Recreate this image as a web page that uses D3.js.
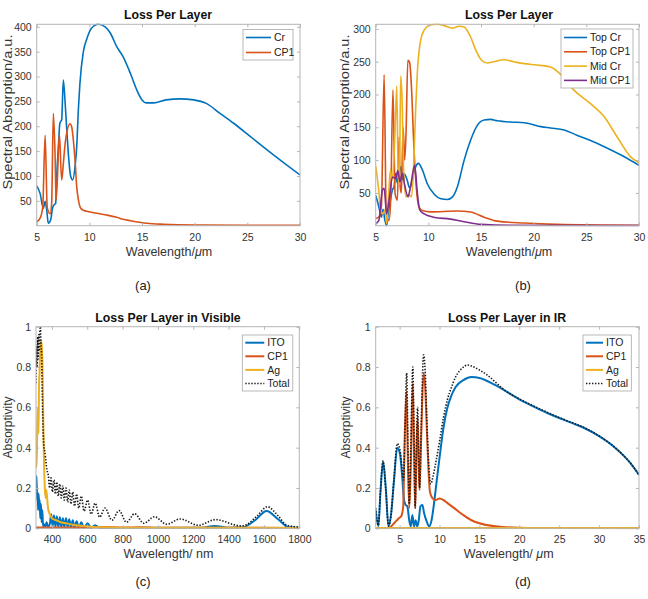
<!DOCTYPE html>
<html>
<head>
<meta charset="utf-8">
<script src="https://cdn.jsdelivr.net/npm/d3@7"></script>
<style>
  body { margin: 0; background: #fff; }
  svg { display: block; }
  text { font-family: "Liberation Sans", Arial, sans-serif; }
</style>
</head>
<body>
<svg id="chart" width="648" height="599"></svg>
<script>
// --- (a) Loss Per Layer, wavelength in um ---
const crA = [[5,80],[5.32,65],[5.63,35],[5.8,49],[5.95,32],[6.1,5],[6.33,12],[6.5,35],[6.65,42],[6.8,45],[6.9,100],[7.06,159],[7.2,206],[7.37,213],[7.53,293],[7.7,247],[7.85,194],[8.0,146],[8.23,99],[8.42,92],[8.64,119],[8.8,159],[8.96,235],[9.1,285],[9.43,350],[9.75,375],[10.2,397],[10.85,405],[11.5,400],[12,387],[12.6,360],[13.2,340],[13.9,306],[14.5,273],[15,253],[15.4,247],[16.1,247],[17.3,253],[18.6,255],[19.9,253],[21.1,246],[22.4,226],[23.7,206],[25.3,179],[26.9,152],[28.5,126],[30,102]];
const cp1A = [[5,8],[5.3,14],[5.57,37],[5.8,182],[6.0,37],[6.27,24],[6.42,44],[6.58,226],[6.74,145],[6.84,52],[6.96,92],[7.15,185],[7.37,92],[7.53,125],[7.7,165],[7.9,192],[8.16,205],[8.32,199],[8.48,172],[8.64,132],[8.8,78],[8.96,52],[9.18,35],[9.43,31],[10,28],[10.7,25],[11.5,22],[12.6,17],[13.2,13],[13.9,10],[15,6],[16,4],[17,3],[20,1.5],[25,1],[30,1]];

// --- (b) Loss Per Layer, top and middle layers ---
const topCrB = [[5,46],[5.3,29],[5.54,13],[5.7,25],[5.85,10],[6.04,0],[6.2,20],[6.4,39],[6.6,55],[6.74,59],[6.9,80],[7.05,65],[7.2,74],[7.4,90],[7.55,70],[7.7,79],[8.0,69],[8.2,58],[8.4,64],[8.6,80],[8.8,90],[9.05,95],[9.43,85],[9.9,64],[10.5,49],[11.2,41],[11.8,40],[12.3,44],[12.75,59],[13.4,100],[14,130],[14.65,153],[15.3,161],[15.9,162],[16.55,160],[17.8,158],[19.1,157],[19.7,155],[20.7,151],[21.6,149],[22.9,146],[24.1,138],[25.4,130],[27,118],[28.6,105],[30,92]];
const topCp1B = [[5,11],[5.3,13],[5.54,29],[5.8,230],[6.0,18],[6.27,8],[6.42,39],[6.64,207],[6.84,49],[7.06,39],[7.22,135],[7.32,60],[7.44,50],[7.6,150],[7.75,100],[7.88,140],[8.05,252],[8.22,249],[8.4,210],[8.6,130],[8.85,59],[9.1,29],[9.43,23],[10.2,21],[12.75,22.5],[14,21],[15.3,13],[16.55,7],[19.1,4],[22.2,2],[30,0.6]];
const midCrB = [[5,91],[5.25,60],[5.47,24],[5.7,18],[5.9,25],[6.04,3],[6.2,40],[6.4,85],[6.55,70],[6.7,92],[6.85,150],[7.0,213],[7.12,90],[7.25,62],[7.37,228],[7.5,195],[7.65,85],[7.88,44],[8.1,48],[8.4,44],[8.6,90],[8.8,180],[8.96,235],[9.27,283],[9.6,298],[10.2,306],[10.85,307],[11.5,305],[12.3,301],[12.9,304],[13.4,303],[14,288],[14.5,268],[15,253],[15.6,248],[16.2,250],[17.2,253],[18.1,250],[19.1,247],[20.3,245],[21.6,242],[22.6,230],[23.8,207],[25.4,186],[26.7,166],[27.9,136],[29.2,105],[30,96]];
const midCp1B = [[5,3],[5.3,8],[5.63,54],[5.8,57],[6.04,18],[6.27,39],[6.6,74],[6.9,72],[7.1,84],[7.3,67],[7.53,80],[7.75,62],[8.07,44],[8.3,59],[8.6,87],[8.7,92],[8.96,49],[9.18,24],[9.6,18],[10.5,13],[12.1,10],[13.4,6],[15,2],[17.8,0.6],[30,0.3]];

// --- (c) Loss Per Layer in Visible, wavelength in nm ---
const itoC = [[310,0.21],[313,0.26],[316,0.14],[319,0.18],[322,0.09],[325,0.17],[328,0.1],[331,0.14],[334,0.05],[338,0.12],[342,0.03],[346,0.09],[350,0.01],[355,0.02],[362,0.005],[370,0.03],[378,0.008],[388,0.02],[396,0.07],[404,0.01],[412,0.065],[420,0.008],[428,0.06],[436,0.007],[445,0.055],[453,0.006],[462,0.05],[470,0.005],[480,0.05],[489,0.005],[498,0.045],[508,0.004],[518,0.04],[528,0.003],[540,0.035],[552,0.003],[566,0.03],[582,0.003],[602,0.025],[622,0.002],[645,0.015],[670,0.002],[750,0.002],[1250,0.003],[1320,0.012],[1400,0.003],[1480,0.005],[1550,0.04],[1615,0.086],[1680,0.045],[1740,0.005],[1800,0.002]];
const cp1C = [[310,0.004],[600,0.004],[700,0.006],[800,0.004],[900,0.005],[1000,0.003],[1800,0.002]];
const agC = [[310,0.3],[314,0.34],[318,0.54],[321,0.6],[324,0.47],[327,0.7],[330,0.77],[333,0.86],[336,0.89],[340,0.93],[344,0.88],[347,0.8],[350,0.6],[353,0.45],[356,0.3],[360,0.2],[364,0.15],[368,0.19],[372,0.16],[378,0.1],[388,0.07],[400,0.05],[425,0.04],[450,0.03],[481,0.025],[520,0.018],[575,0.012],[620,0.008],[670,0.005],[800,0.003],[1800,0.002]];
const totalC = [[310,0.72],[313,0.9],[316,0.8],[319,0.95],[322,0.84],[325,0.96],[328,0.88],[332,0.98],[335,1.0],[338,0.92],[342,0.85],[346,0.65],[350,0.5],[355,0.4],[360,0.38],[366,0.33],[372,0.29],[380,0.26],[387,0.2],[395,0.25],[403,0.18],[412,0.24],[420,0.17],[428,0.23],[436,0.16],[445,0.22],[453,0.15],[462,0.21],[470,0.14],[480,0.2],[489,0.13],[498,0.19],[508,0.12],[518,0.18],[528,0.11],[540,0.17],[552,0.1],[566,0.16],[582,0.085],[602,0.14],[622,0.07],[645,0.125],[670,0.055],[700,0.1],[740,0.04],[780,0.088],[822,0.03],[868,0.072],[920,0.025],[980,0.057],[1050,0.02],[1125,0.046],[1230,0.015],[1325,0.043],[1470,0.012],[1500,0.018],[1560,0.06],[1620,0.107],[1680,0.062],[1730,0.015],[1800,0.006]];

// --- (d) Loss Per Layer in IR, wavelength in um ---
const itoD = [[2,0.09],[2.33,0.01],[2.6,0.18],[2.92,0.33],[3.26,0.2],[3.6,0.01],[3.9,0.06],[4.3,0.24],[4.7,0.4],[5.04,0.37],[5.35,0.24],[5.55,0.14],[5.76,0.116],[5.97,0.108],[6.2,0.04],[6.4,0.01],[6.6,0.066],[6.8,0.01],[7.0,0.04],[7.2,0.01],[7.4,0.04],[7.6,0.108],[7.85,0.116],[8.07,0.075],[8.4,0.033],[8.7,0.01],[9.0,0.04],[9.3,0.12],[9.6,0.22],[10,0.35],[10.5,0.5],[11,0.6],[11.5,0.66],[12,0.7],[13,0.735],[14,0.75],[15,0.746],[17,0.71],[20,0.64],[22,0.6],[23.5,0.572],[25,0.547],[26.5,0.524],[28,0.5],[30,0.457],[32,0.4],[34,0.32],[35,0.265]];
const cp1D = [[2,0],[3.5,0],[3.7,0.002],[4.3,0.025],[4.9,0.05],[5.2,0.06],[5.45,0.11],[5.6,0.39],[5.85,0.68],[6.0,0.4],[6.2,0.1],[6.4,0.3],[6.65,0.72],[6.8,0.4],[6.95,0.1],[7.1,0.35],[7.25,0.55],[7.4,0.3],[7.5,0.19],[7.7,0.45],[8.0,0.77],[8.2,0.7],[8.4,0.5],[8.6,0.3],[8.8,0.18],[9.1,0.15],[9.5,0.14],[10,0.148],[10.5,0.14],[11,0.125],[12,0.095],[13,0.065],[14,0.04],[15,0.025],[17,0.01],[20,0.003],[25,0.001],[35,0]];
const agD = [[2,0.002],[35,0.002]];
const totalD = [[2,0.1],[2.33,0.015],[2.6,0.19],[2.92,0.335],[3.26,0.2],[3.6,0.012],[3.9,0.06],[4.3,0.25],[4.7,0.42],[5.04,0.39],[5.3,0.3],[5.5,0.24],[5.65,0.45],[5.88,0.77],[6.05,0.4],[6.2,0.12],[6.4,0.4],[6.65,0.8],[6.8,0.45],[6.95,0.1],[7.1,0.4],[7.25,0.6],[7.4,0.35],[7.5,0.2],[7.7,0.5],[8.0,0.86],[8.2,0.78],[8.4,0.55],[8.6,0.35],[8.9,0.22],[9.2,0.26],[9.5,0.32],[10,0.43],[10.5,0.55],[11,0.64],[11.5,0.7],[12,0.75],[12.5,0.78],[13,0.8],[13.5,0.81],[14,0.805],[15,0.785],[16,0.76],[17,0.725],[18,0.69],[20,0.642],[22,0.603],[23.5,0.575],[25,0.549],[26.5,0.526],[28,0.502],[30,0.458],[32,0.4],[34,0.32],[35,0.265]];

// tick values
const umTicks = [5, 10, 15, 20, 25, 30];
const irTicks = [5, 10, 15, 20, 25, 30, 35];
const nmTicks = [400, 600, 800, 1000, 1200, 1400, 1600, 1800];
const ticksA = [50, 100, 150, 200, 250, 300, 350, 400];
const ticksB = [50, 100, 150, 200, 250, 300];
const absTicks = [0, 0.2, 0.4, 0.6, 0.8, 1];

// matlab default colours
const BLUE = "#0072BD", ORANGE = "#D95319", YELLOW = "#EDB120", PURPLE = "#7E2F8E";

const svg = d3.select("#chart");

function drawPanel(p) {
  const b = p.box;
  const x = d3.scaleLinear().domain(p.xDomain).range([b.left, b.right]);
  const y = d3.scaleLinear().domain(p.yDomain).range([b.bottom, b.top]);
  const g = svg.append("g");

  g.append("clipPath").attr("id", "clip-" + p.id)
    .append("rect")
    .attr("x", b.left).attr("y", b.top - 1)
    .attr("width", b.right - b.left).attr("height", b.bottom - b.top + 2);

  const line = d3.line()
    .x((d) => x(d[0]))
    .y((d) => y(d[1]))
    .curve(d3.curveMonotoneX);

  const plot = g.append("g").attr("clip-path", `url(#clip-${p.id})`);
  p.series.forEach((s) => {
    plot.append("path")
      .datum(s.values)
      .attr("d", line)
      .attr("fill", "none")
      .attr("stroke", s.color)
      .attr("stroke-width", s.width)
      .attr("stroke-dasharray", s.dash || null)
      .attr("stroke-linejoin", "round");
  });

  // axes, ticks inward on all four sides
  const fmt = (d) => String(d);
  const axes = [
    { ax: d3.axisBottom(x).tickValues(p.xTicks).tickFormat(fmt).tickPadding(p.xPad), t: `translate(0,${b.bottom})` },
    { ax: d3.axisTop(x).tickValues(p.xTicks).tickFormat(""), t: `translate(0,${b.top})` },
    { ax: d3.axisLeft(y).tickValues(p.yTicks).tickFormat(fmt).tickPadding(5), t: `translate(${b.left},0)` },
    { ax: d3.axisRight(y).tickValues(p.yTicks).tickFormat(""), t: `translate(${b.right},0)` },
  ];
  axes.forEach((a) => {
    const ag = g.append("g")
      .attr("transform", a.t)
      .call(a.ax.tickSizeInner(-3).tickSizeOuter(0));
    ag.select(".domain").remove();
    ag.selectAll("line").attr("stroke", "#b5b5b5");
    ag.selectAll("text")
      .attr("font-family", '"Liberation Sans", Arial, sans-serif')
      .attr("font-size", "10.5px")
      .attr("fill", "#333");
  });

  g.append("rect")
    .attr("x", b.left).attr("y", b.top)
    .attr("width", b.right - b.left).attr("height", b.bottom - b.top)
    .attr("fill", "none")
    .attr("stroke", "#b5b5b5")
    .attr("stroke-width", 1);

  // title
  g.append("text")
    .attr("x", p.titleX).attr("y", p.titleY)
    .attr("text-anchor", "middle")
    .attr("font-size", "12.3px")
    .attr("font-weight", "bold")
    .attr("fill", "#111")
    .text(p.title);

  // x label
  const xl = g.append("text")
    .attr("x", p.xLabelX).attr("y", p.xLabelY)
    .attr("text-anchor", "middle")
    .attr("font-size", "12.5px")
    .attr("fill", "#333");
  p.xLabel.forEach((part) => {
    xl.append("tspan").attr("font-style", part.italic ? "italic" : null).text(part.t);
  });

  // y label
  const yl = g.append("text")
    .attr("transform", `translate(${p.yLabelX},${p.yLabelY}) rotate(-90)`)
    .attr("text-anchor", "middle")
    .attr("font-size", p.yLabelSize)
    .attr("fill", "#333")
    .text(p.yLabel);
  if (p.yLabelLength) {
    yl.attr("textLength", p.yLabelLength).attr("lengthAdjust", "spacingAndGlyphs");
  }

  // legend
  const L = p.legend;
  g.append("rect")
    .attr("x", L.x).attr("y", L.y)
    .attr("width", L.w).attr("height", L.h)
    .attr("fill", "#fff")
    .attr("stroke", "#a8a8a8")
    .attr("stroke-width", 0.8);
  p.series.forEach((s, i) => {
    const ry = L.firstRow + i * L.step;
    g.append("line")
      .attr("x1", L.x + 3).attr("x2", L.x + 3 + L.lineLen)
      .attr("y1", ry).attr("y2", ry)
      .attr("stroke", s.color)
      .attr("stroke-width", s.width)
      .attr("stroke-dasharray", s.dash || null);
    g.append("text")
      .attr("x", L.x + 6 + L.lineLen).attr("y", ry)
      .attr("dy", "0.35em")
      .attr("font-size", "10.5px")
      .attr("fill", "#222")
      .text(s.name);
  });

  // caption
  svg.append("text")
    .attr("x", p.captionX).attr("y", p.captionY)
    .attr("text-anchor", "middle")
    .attr("font-family", '"Open Sans", "Noto Sans", sans-serif')
    .attr("font-size", "13px")
    .attr("fill", "#222")
    .text(p.caption);
}

const umLabel = [{ t: "Wavelength/" }, { t: "\u03bc", italic: true }, { t: "m" }];
const umLabelSp = [{ t: "Wavelength/ " }, { t: "\u03bc", italic: true }, { t: "m" }];

drawPanel({
  id: "a", caption: "(a)", captionX: 143, captionY: 290,
  box: { left: 36.7, right: 300, top: 24.3, bottom: 225.7 },
  xDomain: [5, 30], yDomain: [0, 405], xTicks: umTicks, yTicks: ticksA, xPad: 8,
  title: "Loss Per Layer", titleX: 168, titleY: 19,
  xLabel: umLabel, xLabelX: 169, xLabelY: 256,
  yLabel: "Spectral Absorption/a.u.", yLabelX: 11.5, yLabelY: 112, yLabelSize: "12.5px", yLabelLength: 155,
  legend: { x: 243, y: 29.5, w: 50, h: 30.5, firstRow: 37.5, step: 15, lineLen: 25 },
  series: [
    { name: "Cr", values: crA, color: BLUE, width: 1.6 },
    { name: "CP1", values: cp1A, color: ORANGE, width: 1.6 },
  ],
});

drawPanel({
  id: "b", caption: "(b)", captionX: 523, captionY: 290,
  box: { left: 375.7, right: 639, top: 24.3, bottom: 225.7 },
  xDomain: [5, 30], yDomain: [0, 307], xTicks: umTicks, yTicks: ticksB, xPad: 8,
  title: "Loss Per Layer", titleX: 509, titleY: 19,
  xLabel: umLabel, xLabelX: 509, xLabelY: 256,
  yLabel: "Spectral Absorption/a.u.", yLabelX: 348.5, yLabelY: 112, yLabelSize: "12.5px", yLabelLength: 155,
  legend: { x: 561, y: 29, w: 72, h: 59, firstRow: 37.5, step: 14.3, lineLen: 23 },
  series: [
    { name: "Top Cr", values: topCrB, color: BLUE, width: 1.6 },
    { name: "Top CP1", values: topCp1B, color: ORANGE, width: 1.6 },
    { name: "Mid Cr", values: midCrB, color: YELLOW, width: 1.6 },
    { name: "Mid CP1", values: midCp1B, color: PURPLE, width: 1.6 },
  ],
});

drawPanel({
  id: "c", caption: "(c)", captionX: 143, captionY: 586,
  box: { left: 36, right: 299.3, top: 326.7, bottom: 528.3 },
  xDomain: [310, 1800], yDomain: [0, 1], xTicks: nmTicks, yTicks: absTicks, xPad: 7,
  title: "Loss Per Layer in Visible", titleX: 168, titleY: 322,
  xLabel: [{ t: "Wavelength/ nm" }], xLabelX: 168.5, xLabelY: 558,
  yLabel: "Absorptivity", yLabelX: 12, yLabelY: 427.5, yLabelSize: "12px",
  legend: { x: 242.3, y: 335, w: 50.5, h: 56, firstRow: 342.7, step: 13.6, lineLen: 19 },
  series: [
    { name: "ITO", values: itoC, color: BLUE, width: 2 },
    { name: "CP1", values: cp1C, color: ORANGE, width: 2 },
    { name: "Ag", values: agC, color: YELLOW, width: 2 },
    { name: "Total", values: totalC, color: "#1a1a1a", width: 1.6, dash: "1.4,1.6" },
  ],
});

drawPanel({
  id: "d", caption: "(d)", captionX: 523, captionY: 586,
  box: { left: 375.7, right: 639, top: 326.7, bottom: 528.3 },
  xDomain: [2, 35], yDomain: [0, 1], xTicks: irTicks, yTicks: absTicks, xPad: 7,
  title: "Loss Per Layer in IR", titleX: 507, titleY: 322,
  xLabel: umLabelSp, xLabelX: 508.7, xLabelY: 558,
  yLabel: "Absorptivity", yLabelX: 350, yLabelY: 427.5, yLabelSize: "12px",
  legend: { x: 583, y: 335, w: 48.3, h: 56, firstRow: 342.7, step: 13.6, lineLen: 17 },
  series: [
    { name: "ITO", values: itoD, color: BLUE, width: 2 },
    { name: "CP1", values: cp1D, color: ORANGE, width: 2 },
    { name: "Ag", values: agD, color: YELLOW, width: 2 },
    { name: "Total", values: totalD, color: "#1a1a1a", width: 1.6, dash: "1.4,1.6" },
  ],
});
</script>
</body>
</html>
